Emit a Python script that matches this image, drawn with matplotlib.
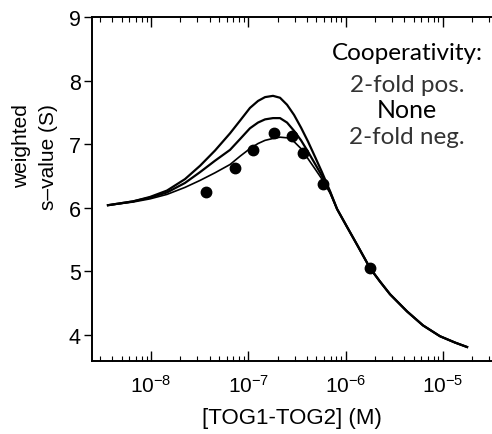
import numpy as np
import matplotlib
matplotlib.use("Agg")
import matplotlib.pyplot as plt
from matplotlib.ticker import LogLocator, LogFormatterMathtext, NullFormatter

plt.rcParams['font.family'] = ['Liberation Sans', 'DejaVu Sans']
plt.rcParams['mathtext.default'] = 'regular'

# ---- data (log10 of concentration in M, weighted s-value in S) ----
curve_logc = [-8.442, -8.185, -8.010, -7.836, -7.651, -7.496, -7.342, -7.188,
              -7.085, -6.983, -6.900, -6.828, -6.746, -6.674, -6.602, -6.530,
              -6.458, -6.386, -6.314, -6.243, -6.160, -6.088, -5.986, -5.883,
              -5.749, -5.647, -5.544, -5.369, -5.205, -5.031, -4.876, -4.752]
tail = [5.98, 5.70, 5.42, 5.05, 4.84, 4.64, 4.37, 4.15, 3.98, 3.88, 3.81]
s_pos = [6.04, 6.10, 6.17, 6.27, 6.45, 6.66, 6.90, 7.17, 7.37, 7.57, 7.68,
         7.74, 7.76, 7.73, 7.62, 7.46, 7.26, 7.04, 6.80, 6.56, 6.26] + tail
s_none = [6.04, 6.10, 6.16, 6.24, 6.39, 6.56, 6.74, 6.91, 7.08, 7.25, 7.34,
          7.39, 7.41, 7.41, 7.34, 7.21, 7.06, 6.88, 6.69, 6.50, 6.25] + tail
s_neg = [6.04, 6.09, 6.14, 6.21, 6.32, 6.43, 6.55, 6.68, 6.81, 6.93, 7.01,
         7.06, 7.09, 7.11, 7.10, 7.04, 6.93, 6.77, 6.61, 6.45, 6.23] + tail

data_logc = [-7.435, -7.137, -6.952, -6.736, -6.551, -6.438, -6.232, -5.749]
data_s = [6.25, 6.63, 6.91, 7.18, 7.13, 6.86, 6.38, 5.05]

legend_title = "Cooperativity:"
legend_lines = ["2-fold pos.", "None", "2-fold neg."]

conc = 10 ** np.array(curve_logc)
dconc = 10 ** np.array(data_logc)

fig = plt.figure(figsize=(4.92, 4.35), dpi=100)
ax = fig.add_axes([92/492, 1 - 362/435, 1 - 92/492, (362 - 18)/435])

ax.plot(conc, s_pos, color='black', lw=1.6, solid_joinstyle='round')
ax.plot(conc, s_none, color='black', lw=1.6, solid_joinstyle='round')
ax.plot(conc, s_neg, color='black', lw=1.2, solid_joinstyle='round')
ax.plot(dconc, data_s, 'o', color='black', ms=7.5)

ax.set_xscale('log')
ax.set_xlim(10 ** -8.606, 10 ** -4.496)
ax.set_ylim(3.59, 9.0)

ax.xaxis.set_minor_locator(LogLocator(base=10, subs=np.arange(2, 10), numticks=20))
ax.xaxis.set_minor_formatter(NullFormatter())
ax.set_xticks([1e-8, 1e-7, 1e-6, 1e-5])
ax.xaxis.set_major_formatter(LogFormatterMathtext())
ax.set_yticks([4, 5, 6, 7, 8, 9])

ax.tick_params(axis='x', which='both', direction='in', top=True, bottom=True,
               labelsize=15, pad=9)
ax.tick_params(axis='x', which='major', length=7, width=1)
ax.tick_params(axis='x', which='minor', length=3.5, width=0.8)
ax.tick_params(axis='y', which='major', direction='out', length=6, width=1,
               labelsize=15.5, pad=2)

for sp in ['left', 'bottom', 'top']:
    ax.spines[sp].set_linewidth(1.4)
ax.spines['right'].set_visible(False)

ax.set_xlabel("[TOG1-TOG2] (M)", fontsize=16, labelpad=8)
fig.text(22/492, 1 - 146/435, "weighted", rotation=90, fontsize=15,
         ha='center', va='center')
fig.text(49/492, 1 - 157/435, "s\u2013value (S)", rotation=90, fontsize=15,
         ha='center', va='center')

tx = 407
fig.text(tx/492, 1 - 53/435, legend_title, fontsize=17.5, family='Lato',
         ha='center', va='center', color='black')
ys = [85, 110, 137]
sizes = [17.5, 18, 17.5]
cols = ['#333333', 'black', '#333333']
for t, y, s, c in zip(legend_lines, ys, sizes, cols):
    fig.text(tx/492, 1 - y/435, t, fontsize=s, family='Lato',
             ha='center', va='center', color=c)

fig.savefig("out.png", dpi=100)
